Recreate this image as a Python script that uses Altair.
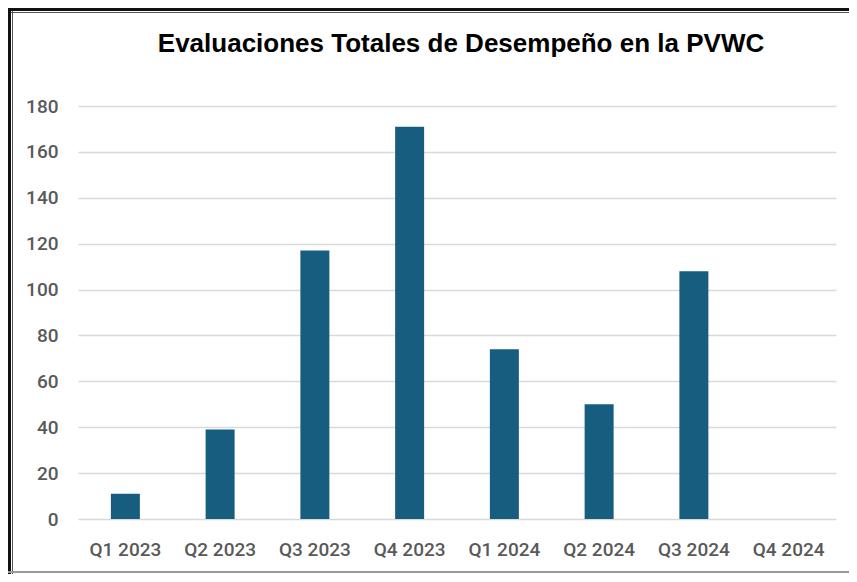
import altair as alt
import pandas as pd

quarters = ["Q1 2023", "Q2 2023", "Q3 2023", "Q4 2023",
            "Q1 2024", "Q2 2024", "Q3 2024", "Q4 2024"]
values = [11, 39, 117, 171, 74, 50, 108, 0]
y_ticks = [0, 20, 40, 60, 80, 100, 120, 140, 160, 180]
title_text = "Evaluaciones Totales de Desempeño en la PVWC"

df = pd.DataFrame({"quarter": quarters, "value": values})

label_font = "Roboto"
label_color = "#595959"

bars = alt.Chart(df).mark_bar(color="#175d80").encode(
    x=alt.X(
        "quarter:N",
        sort=quarters,
        scale=alt.Scale(paddingInner=0.694, paddingOuter=0.347),
        axis=alt.Axis(title=None, labelAngle=0, domain=False, ticks=False,
                      labelPadding=21, labelFontSize=19, labelColor=label_color,
                      labelFont=label_font, labelFontWeight=500, grid=False),
    ),
    y=alt.Y(
        "value:Q",
        scale=alt.Scale(domain=[0, 180], nice=False),
        axis=alt.Axis(title=None, values=y_ticks, domain=False, ticks=False,
                      labelPadding=20, labelFontSize=19, labelColor=label_color,
                      labelFont=label_font, labelFontWeight=500, grid=True,
                      gridColor="#d9d9d9", gridWidth=1.5),
    ),
)

one = alt.Data(values=[{"label": title_text}])

title = alt.Chart(one).mark_text(
    font="Liberation Sans", fontSize=26, fontWeight="bold", color="black",
    align="center", baseline="alphabetic",
).encode(text="label:N", x=alt.value(383), y=alt.value(-54))

frame_left = alt.Chart(one).mark_rule(color="#111111", strokeWidth=3).encode(
    x=alt.value(-68.5), y=alt.value(-98), y2=alt.value(468))
frame_left_inner = alt.Chart(one).mark_rule(color="#555555", strokeWidth=1).encode(
    x=alt.value(-65.5), y=alt.value(-95), y2=alt.value(468))
frame_top = alt.Chart(one).mark_rule(color="#111111", strokeWidth=3).encode(
    y=alt.value(-96.5), x=alt.value(-70), x2=alt.value(790))
frame_top_inner = alt.Chart(one).mark_rule(color="#555555", strokeWidth=1).encode(
    y=alt.value(-93.5), x=alt.value(-67), x2=alt.value(790))
frame_bottom = alt.Chart(one).mark_rule(color="#9a9a9a", strokeWidth=2).encode(
    y=alt.value(466), x=alt.value(-70), x2=alt.value(790))

chart = alt.layer(
    bars, title, frame_left, frame_left_inner, frame_top, frame_top_inner,
    frame_bottom
).properties(
    width=758,
    height=413,
    autosize=alt.AutoSizeParams(type="none"),
    padding={"left": 70, "top": 98, "right": 13, "bottom": 55},
    background="white",
).configure_view(stroke=None)

chart.save("out.html", embed_options={"renderer": "svg", "actions": False})
